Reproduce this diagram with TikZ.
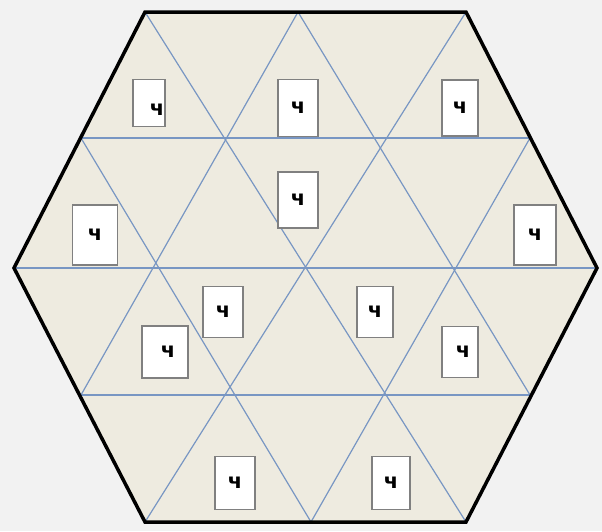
\documentclass[tikz,border=0pt]{standalone}
\usepackage{fontspec}
\setmainfont{DejaVu Sans}
\usepackage{xcolor}
\usetikzlibrary{positioning}
\definecolor{pagegray}{RGB}{242, 242, 242}
\definecolor{hexbeige}{RGB}{238, 235, 224}
\definecolor{gridblue}{RGB}{120, 150, 195}
\definecolor{boxgray}{RGB}{128, 128, 128}

\begin{document}
\begin{tikzpicture}[x=1pt, y=-1pt,
    tilecard/.style={fill=white, draw=boxgray, line width=1.3pt, inner sep=0pt,
                     font=\fontsize{21}{21}\selectfont\bfseries},
    gridline/.style={draw=gridblue, line width=1.2pt}]
            \fill[pagegray] (0,0) rectangle (602,531);
            % corners and edge points of the hexagon
            \coordinate (topL) at (145,12);
            \coordinate (topM) at (298,12);
            \coordinate (topR) at (466,12);
            \coordinate (upL) at (81,138);
            \coordinate (upR) at (530,138);
            \coordinate (midL) at (14,268);
            \coordinate (midR) at (597,268);
            \coordinate (lowL) at (81,395);
            \coordinate (lowR) at (530,395);
            \coordinate (botL) at (145,522);
            \coordinate (botM) at (311,522);
            \coordinate (botR) at (466,522);

            \fill[hexbeige] (topL) -- (topR) -- (midR) -- (botR) -- (botL) -- (midL) -- cycle;

            % triangle grid
            \draw[gridline] (upL) -- (upR);
            \draw[gridline] (midL) -- (midR);
            \draw[gridline] (lowL) -- (lowR);
            \draw[gridline] (topL) -- (botR);
            \draw[gridline] (upL) -- (botM);
            \draw[gridline] (topM) -- (lowR);
            \draw[gridline] (topR) -- (botL);
            \draw[gridline] (topM) -- (lowL);
            \draw[gridline] (upR) -- (botM);

            \draw[black, line width=3.5pt, line join=miter]
                (topL) -- (topR) -- (midR) -- (botR) -- (botL) -- (midL) -- cycle;

            % cards
            \node[tilecard, minimum width=32, minimum height=47] (card1) at (149,103) {\hspace*{16pt}\raisebox{-12pt}[0pt][0pt]{ч}};
            \node[tilecard, minimum width=40, minimum height=57] (card2) at (298,108) {ч};
            \node[tilecard, minimum width=36, minimum height=56] (card3) at (460,108) {ч};
            \node[tilecard, minimum width=45, minimum height=60] (card4) at (95,235) {ч};
            \node[tilecard, minimum width=40, minimum height=56] (card5) at (298,200) {ч};
            \node[tilecard, minimum width=42, minimum height=60] (card6) at (535,235) {ч};
            \node[tilecard, minimum width=40, minimum height=51] (card7) at (223,312) {ч};
            \node[tilecard, minimum width=46, minimum height=52] (card8) at (165,352) {\hspace*{6pt}ч};
            \node[tilecard, minimum width=36, minimum height=51] (card9) at (375,312) {ч};
            \node[tilecard, minimum width=36, minimum height=51] (card10) at (460,352) {\hspace*{6pt}ч};
            \node[tilecard, minimum width=40, minimum height=53] (card11) at (235,483) {ч};
            \node[tilecard, minimum width=38, minimum height=53] (card12) at (391,483) {ч};
        \end{tikzpicture}
\end{document}
